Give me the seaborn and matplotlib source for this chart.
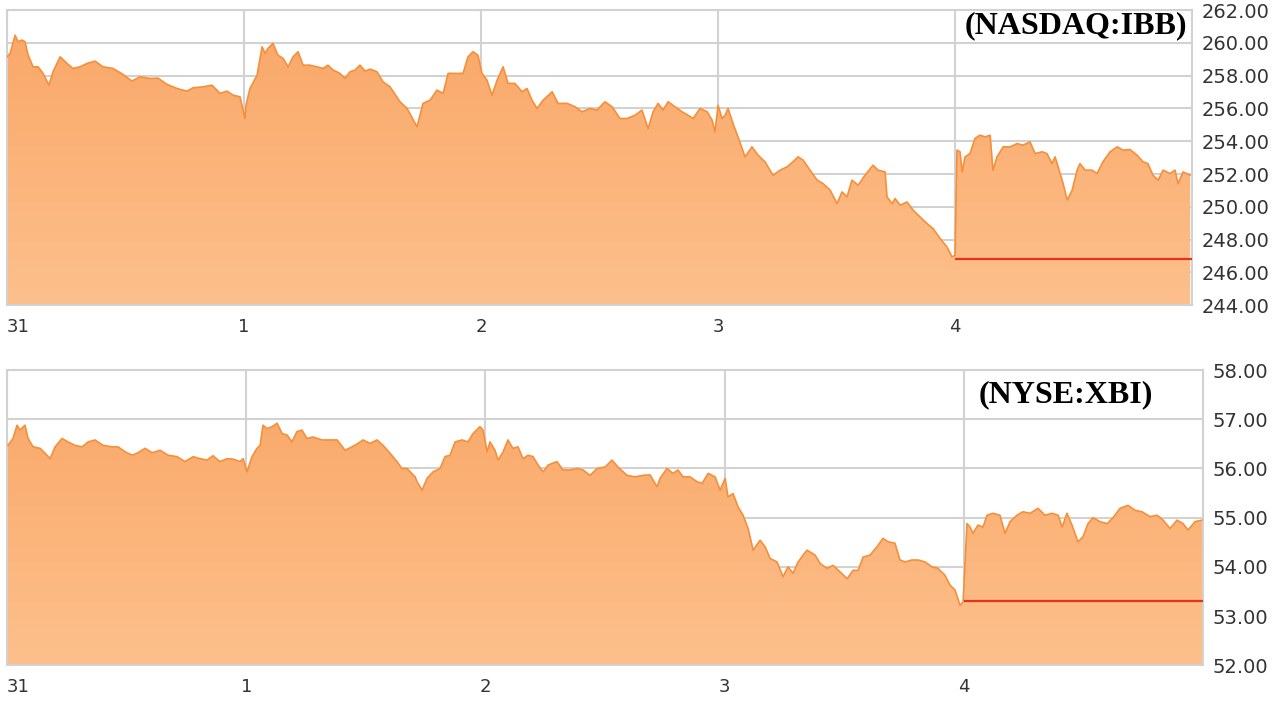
import numpy as np
import pandas as pd
import matplotlib
matplotlib.use("Agg")
import matplotlib.pyplot as plt
from matplotlib.colors import LinearSegmentedColormap
import seaborn as sns

# trading days: 0 = the 31st, then 1, 2, 3, 4 (last session runs to 5)
day_labels = ["31", "1", "2", "3", "4"]

# NASDAQ:IBB, time in days, price
ibb_t = [0.000, 0.013, 0.034, 0.046, 0.063, 0.076, 0.089, 0.110, 0.131, 0.152,
         0.177, 0.194, 0.224, 0.253, 0.278, 0.308, 0.338, 0.371, 0.405, 0.447,
         0.489, 0.527, 0.561, 0.603, 0.637, 0.675, 0.717, 0.759, 0.785, 0.827,
         0.865, 0.899, 0.928, 0.954, 0.983, 1.004, 1.008, 1.025, 1.055, 1.076,
         1.089, 1.101, 1.122, 1.143, 1.165, 1.186, 1.207, 1.228, 1.249, 1.278,
         1.308, 1.333, 1.354, 1.376, 1.405, 1.426, 1.447, 1.468, 1.489, 1.511,
         1.532, 1.561, 1.586, 1.616, 1.658, 1.688, 1.730, 1.755, 1.785, 1.814,
         1.840, 1.861, 1.899, 1.924, 1.945, 1.966, 1.987, 2.004, 2.025, 2.046,
         2.068, 2.093, 2.114, 2.143, 2.173, 2.194, 2.215, 2.236, 2.262, 2.300,
         2.325, 2.363, 2.397, 2.426, 2.460, 2.489, 2.523, 2.553, 2.586, 2.616,
         2.650, 2.679, 2.705, 2.726, 2.747, 2.768, 2.789, 2.819, 2.848, 2.873,
         2.895, 2.924, 2.954, 2.975, 2.987, 3.000, 3.017, 3.030, 3.042, 3.063,
         3.084, 3.114, 3.143, 3.169, 3.198, 3.232, 3.262, 3.291, 3.316, 3.338,
         3.359, 3.388, 3.418, 3.443, 3.473, 3.502, 3.523, 3.544, 3.565, 3.591,
         3.620, 3.654, 3.675, 3.705, 3.713, 3.734, 3.747, 3.768, 3.797, 3.823,
         3.852, 3.882, 3.907, 3.937, 3.966, 3.987, 4.000, 4.008, 4.021, 4.030,
         4.042, 4.063, 4.084, 4.105, 4.127, 4.148, 4.160, 4.177, 4.203, 4.232,
         4.262, 4.287, 4.316, 4.338, 4.367, 4.388, 4.409, 4.422, 4.435, 4.456,
         4.473, 4.494, 4.515, 4.527, 4.549, 4.578, 4.599, 4.624, 4.654, 4.684,
         4.709, 4.738, 4.768, 4.793, 4.814, 4.835, 4.857, 4.878, 4.907, 4.928,
         4.941, 4.962, 4.992]
ibb_price = [259.15, 259.36, 260.47, 260.07, 260.17, 260.07, 259.25, 258.54, 258.54, 258.14,
             257.42, 258.24, 259.15, 258.75, 258.44, 258.54, 258.75, 258.89, 258.54, 258.44,
             258.08, 257.67, 257.93, 257.83, 257.85, 257.47, 257.22, 257.06, 257.26, 257.32,
             257.42, 256.92, 257.06, 256.81, 256.71, 255.39, 256.20, 257.22, 258.03, 259.76,
             259.36, 259.66, 259.97, 259.25, 259.05, 258.54, 259.15, 259.46, 258.64, 258.64,
             258.54, 258.44, 258.64, 258.34, 258.14, 257.83, 258.24, 258.34, 258.64, 258.28,
             258.40, 258.24, 257.63, 257.32, 256.41, 256.00, 254.88, 256.31, 256.51, 257.12,
             256.92, 258.14, 258.14, 258.14, 259.15, 259.46, 259.25, 258.14, 257.73, 256.81,
             257.73, 258.54, 257.53, 257.53, 257.02, 257.22, 256.51, 256.00, 256.51, 257.02,
             256.31, 256.31, 256.10, 255.80, 256.00, 255.90, 256.41, 256.10, 255.39, 255.39,
             255.59, 255.90, 254.78, 255.80, 256.31, 255.90, 256.41, 256.10, 255.80, 255.59,
             255.39, 256.00, 255.80, 255.29, 254.58, 256.20, 255.39, 255.59, 256.00, 255.09,
             254.27, 253.05, 253.66, 253.15, 252.75, 251.93, 252.24, 252.44, 252.75, 253.05,
             252.85, 252.24, 251.63, 251.42, 251.02, 250.20, 250.91, 250.61, 251.63, 251.32,
             251.93, 252.54, 252.24, 252.13, 250.61, 250.20, 250.51, 250.10, 250.30, 249.80,
             249.39, 248.98, 248.68, 248.07, 247.56, 246.95, 247.05, 253.46, 253.36, 252.13,
             253.05, 253.25, 254.17, 254.37, 254.27, 254.37, 252.24, 253.05, 253.66, 253.66,
             253.86, 253.76, 253.97, 253.25, 253.36, 253.25, 252.64, 253.05, 252.44, 251.42,
             250.41, 251.02, 252.24, 252.64, 252.24, 252.24, 252.03, 252.75, 253.36, 253.66,
             253.46, 253.50, 253.15, 252.75, 252.64, 251.93, 251.63, 252.24, 252.03, 252.24,
             251.42, 252.13, 251.93]
ibb_prev_close = 246.85

# NYSE:XBI
xbi_t = [0.004, 0.025, 0.042, 0.054, 0.075, 0.088, 0.109, 0.138, 0.159, 0.180,
         0.201, 0.230, 0.255, 0.284, 0.314, 0.339, 0.368, 0.401, 0.439, 0.464,
         0.493, 0.523, 0.548, 0.577, 0.606, 0.640, 0.673, 0.711, 0.744, 0.778,
         0.807, 0.836, 0.861, 0.890, 0.920, 0.945, 0.974, 0.987, 1.003, 1.024,
         1.045, 1.058, 1.070, 1.087, 1.108, 1.129, 1.150, 1.171, 1.191, 1.212,
         1.233, 1.254, 1.279, 1.317, 1.350, 1.380, 1.413, 1.442, 1.467, 1.488,
         1.518, 1.547, 1.572, 1.601, 1.630, 1.651, 1.672, 1.706, 1.714, 1.735,
         1.756, 1.781, 1.810, 1.831, 1.852, 1.873, 1.902, 1.927, 1.948, 1.977,
         1.990, 2.007, 2.019, 2.040, 2.053, 2.074, 2.094, 2.115, 2.136, 2.157,
         2.178, 2.199, 2.220, 2.241, 2.262, 2.299, 2.324, 2.354, 2.383, 2.408,
         2.437, 2.467, 2.500, 2.529, 2.554, 2.592, 2.625, 2.659, 2.688, 2.717,
         2.730, 2.759, 2.784, 2.805, 2.826, 2.855, 2.885, 2.906, 2.931, 2.960,
         2.981, 3.002, 3.014, 3.035, 3.056, 3.077, 3.098, 3.119, 3.148, 3.169,
         3.190, 3.219, 3.244, 3.265, 3.286, 3.307, 3.344, 3.378, 3.399, 3.428,
         3.453, 3.482, 3.512, 3.537, 3.558, 3.579, 3.608, 3.637, 3.662, 3.683,
         3.712, 3.733, 3.754, 3.783, 3.809, 3.838, 3.867, 3.892, 3.921, 3.942,
         3.963, 3.984, 3.997, 4.013, 4.026, 4.038, 4.059, 4.080, 4.097, 4.122,
         4.151, 4.172, 4.193, 4.222, 4.247, 4.277, 4.310, 4.339, 4.369, 4.394,
         4.411, 4.431, 4.452, 4.477, 4.498, 4.519, 4.540, 4.569, 4.599, 4.624,
         4.653, 4.686, 4.716, 4.745, 4.778, 4.808, 4.833, 4.862, 4.891, 4.916,
         4.937, 4.967, 4.996]
xbi_price = [56.47, 56.61, 56.88, 56.78, 56.88, 56.61, 56.44, 56.41, 56.31, 56.20,
             56.44, 56.61, 56.54, 56.47, 56.44, 56.54, 56.58, 56.47, 56.44, 56.44,
             56.34, 56.27, 56.32, 56.41, 56.32, 56.37, 56.27, 56.24, 56.14, 56.24,
             56.20, 56.17, 56.26, 56.14, 56.20, 56.19, 56.14, 56.20, 55.93, 56.24,
             56.41, 56.47, 56.88, 56.81, 56.85, 56.92, 56.71, 56.68, 56.54, 56.75,
             56.78, 56.61, 56.64, 56.58, 56.58, 56.58, 56.37, 56.44, 56.51, 56.58,
             56.51, 56.58, 56.47, 56.31, 56.14, 56.00, 56.00, 55.83, 55.73, 55.56,
             55.80, 55.93, 56.00, 56.24, 56.27, 56.54, 56.58, 56.54, 56.71, 56.85,
             56.78, 56.34, 56.54, 56.37, 56.17, 56.34, 56.58, 56.41, 56.44, 56.20,
             56.27, 56.24, 56.07, 55.93, 56.07, 56.14, 55.97, 55.97, 56.00, 55.97,
             55.86, 56.00, 56.03, 56.17, 56.03, 55.86, 55.83, 55.86, 55.87, 55.63,
             55.80, 56.00, 55.90, 55.97, 55.83, 55.83, 55.73, 55.70, 55.90, 55.83,
             55.56, 55.80, 55.42, 55.49, 55.22, 55.05, 54.78, 54.34, 54.54, 54.41,
             54.17, 54.10, 53.80, 54.00, 53.87, 54.10, 54.34, 54.24, 54.07, 53.97,
             54.03, 53.90, 53.76, 53.93, 53.93, 54.20, 54.24, 54.41, 54.58, 54.51,
             54.48, 54.14, 54.10, 54.14, 54.14, 54.10, 54.00, 53.97, 53.83, 53.63,
             53.53, 53.22, 53.29, 54.88, 54.81, 54.68, 54.85, 54.81, 55.05, 55.09,
             55.05, 54.68, 54.92, 55.05, 55.12, 55.09, 55.19, 55.05, 55.09, 55.05,
             54.81, 55.09, 54.85, 54.51, 54.61, 54.88, 55.00, 54.92, 54.88, 55.00,
             55.19, 55.25, 55.15, 55.12, 55.02, 55.05, 54.95, 54.78, 54.95, 54.88,
             54.75, 54.92, 54.95]
xbi_prev_close = 53.30

ibb = pd.DataFrame({"t": ibb_t, "price": ibb_price})
xbi = pd.DataFrame({"t": xbi_t, "price": xbi_price})

sns.set_style("white")
plt.rcParams["font.family"] = ["DejaVu Sans"]

fig = plt.figure(figsize=(12.8, 7.2), dpi=100)
ax1 = fig.add_axes([0.0055, 0.576, 0.9258, 0.410])
ax2 = fig.add_axes([0.0055, 0.076, 0.9344, 0.410])

LINE = "#f68f3a"
GRID = "#d2d2d2"
fill_cmap = LinearSegmentedColormap.from_list("fill", ["#fdc08c", "#f9a666"])


def draw_panel(ax, df, prev_close, ylo, yhi, ystep, name, name_xy):
    # area under the price, shaded with a soft vertical gradient
    poly = ax.fill_between(df["t"], df["price"], ylo, color="none", lw=0, zorder=2)
    grad = np.linspace(0, 1, 256).reshape(-1, 1)
    img = ax.imshow(grad, cmap=fill_cmap, origin="lower", aspect="auto",
                    extent=[0, 5, ylo, yhi], zorder=2, interpolation="bilinear")
    img.set_clip_path(poly.get_paths()[0], transform=ax.transData)

    sns.lineplot(data=df, x="t", y="price", ax=ax, color=LINE, lw=1.2, zorder=3)
    ax.hlines(prev_close, 4, 5, color="#e5321c", lw=1.6, zorder=4)

    ax.set_xlim(0, 5)
    ax.set_ylim(ylo, yhi)
    ax.set_xticks(range(5))
    ax.set_xticklabels(day_labels)
    ax.get_xticklabels()[0].set_horizontalalignment("left")
    ax.set_yticks(np.arange(ylo, yhi + ystep / 2, ystep))
    ax.yaxis.set_major_formatter(matplotlib.ticker.FormatStrFormatter("%.2f"))
    ax.yaxis.tick_right()
    ax.set_xlabel("")
    ax.set_ylabel("")

    ax.set_axisbelow(True)
    ax.grid(True, color=GRID, lw=1.5)
    for s in ax.spines.values():
        s.set_color(GRID)
        s.set_linewidth(1.5)
    ax.tick_params(axis="y", length=0, pad=7, labelsize=14, labelcolor="#333333")
    ax.tick_params(axis="x", length=5, width=2, color="#333333", pad=4,
                   labelsize=13, labelcolor="#333333", direction="out")

    ax.text(name_xy[0], name_xy[1], name, transform=ax.transAxes,
            ha="center", va="center", fontsize=23, fontweight="bold",
            family="Liberation Serif", color="black", zorder=5)


draw_panel(ax1, ibb, ibb_prev_close, 244, 262, 2, "(NASDAQ:IBB)", (0.902, 0.946))
draw_panel(ax2, xbi, xbi_prev_close, 52, 58, 1, "(NYSE:XBI)", (0.885, 0.915))

fig.savefig("out.png", dpi=100)
